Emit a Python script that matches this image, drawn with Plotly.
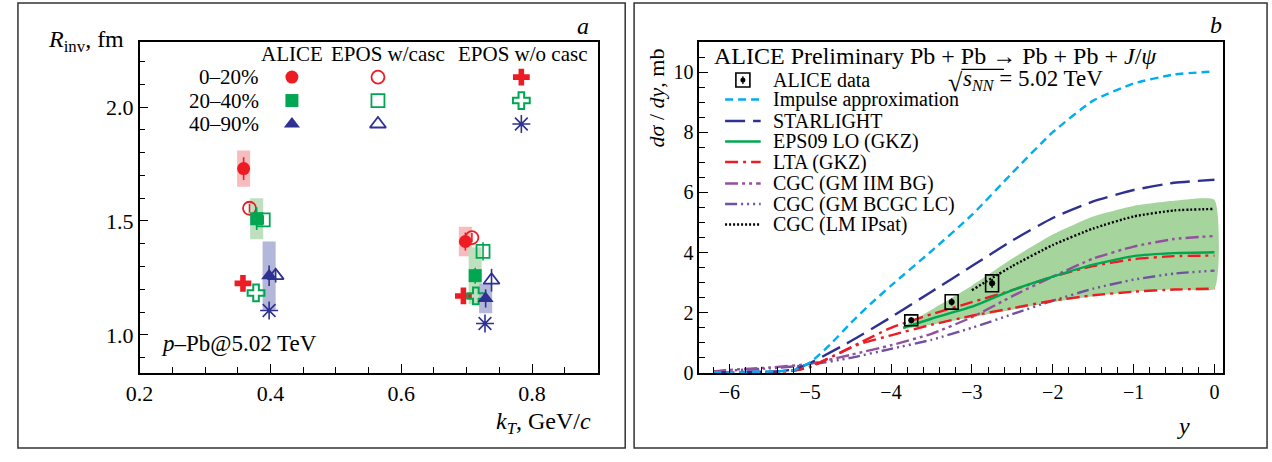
import plotly.graph_objects as go

W, H = 1272, 462
SERIF = "Liberation Serif"

# ---------------- panel a: femtoscopic radii vs kT ----------------
RED, GREEN, NAVY = "#ed1c24", "#00a651", "#2e3192"
RED_L, GREEN_L, NAVY_L = "#f7bcbe", "#bfe0bf", "#b3b7da"

centralities = ["0–20%", "20–40%", "40–90%"]

# ALICE measurements (two kT bins per centrality class)
alice_kt_020 = [0.359, 0.698]
alice_r_020 = [1.73, 1.41]
alice_stat_020 = [0.05, 0.04]
alice_sys_020 = [0.08, 0.065]

alice_kt_2040 = [0.379, 0.713]
alice_r_2040 = [1.51, 1.26]
alice_stat_2040 = [0.05, 0.035]
alice_sys_2040 = [0.09, 0.125]

alice_kt_4090 = [0.398, 0.729]
alice_r_4090 = [1.26, 1.16]
alice_stat_4090 = [0.045, 0.04]
alice_sys_4090 = [0.15, 0.065]

# EPOS with hadronic cascade
epos_c_kt_020 = [0.368, 0.708]
epos_c_r_020 = [1.556, 1.427]
epos_c_err_020 = [0.02, 0.02]

epos_c_kt_2040 = [0.389, 0.725]
epos_c_r_2040 = [1.505, 1.367]
epos_c_err_2040 = [0.02, 0.04]

epos_c_kt_4090 = [0.408, 0.738]
epos_c_r_4090 = [1.26, 1.24]
epos_c_err_4090 = [0.03, 0.05]

# EPOS without hadronic cascade
epos_n_kt_020 = [0.358, 0.695]
epos_n_r_020 = [1.226, 1.171]

epos_n_kt_2040 = [0.378, 0.714]
epos_n_r_2040 = [1.184, 1.171]

epos_n_kt_4090 = [0.398, 0.728]
epos_n_r_4090 = [1.107, 1.05]

# ---------------- panel b: coherent J/psi cross section ----------------
CYAN, PURPLE, VIOLET = "#00aeef", "#93509e", "#7152a0"
BAND = "#a5d49d"

ia_y = [-6.2, -5.8, -5.4, -5.2, -5.0, -4.75, -4.5, -4.25, -4.0, -3.5, -3.0, -2.5, -2.0, -1.5, -1.0, -0.5, 0.0]
ia_v = [0.02, 0.03, 0.05, 0.1, 0.35, 0.95, 1.65, 2.3, 2.9, 4.05, 5.25, 6.65, 8.0, 9.05, 9.62, 9.92, 10.02]

sl_y = [-6.2, -5.8, -5.4, -5.2, -5.0, -4.5, -4.0, -3.5, -3.0, -2.5, -2.0, -1.5, -1.0, -0.5, 0.0]
sl_v = [0.02, 0.03, 0.05, 0.12, 0.33, 1.05, 1.85, 2.7, 3.55, 4.4, 5.15, 5.7, 6.08, 6.32, 6.42]

eps_y = [-3.85, -3.5, -3.0, -2.5, -2.0, -1.5, -1.0, -0.5, 0.0]
eps_v = [1.5, 1.8, 2.2, 2.75, 3.2, 3.6, 3.88, 3.98, 4.01]
eps_hi = [1.55, 2.1, 2.9, 3.8, 4.6, 5.2, 5.55, 5.72, 5.75]
eps_lo = [1.45, 1.6, 1.85, 2.1, 2.35, 2.55, 2.7, 2.78, 2.8]

lta_y = [-6.2, -5.8, -5.4, -5.2, -5.0, -4.8, -4.4, -4.0, -3.5, -3.0, -2.5, -2.0, -1.5, -1.0, -0.5, 0.0]
lta_hi = [0.01, 0.02, 0.04, 0.08, 0.2, 0.45, 0.98, 1.5, 1.95, 2.35, 2.75, 3.2, 3.55, 3.78, 3.88, 3.9]
lta_lo = [0.01, 0.02, 0.04, 0.08, 0.2, 0.45, 0.95, 1.25, 1.6, 1.9, 2.15, 2.4, 2.58, 2.7, 2.77, 2.8]

iim_y = [-6.2, -6.0, -5.5, -5.0, -4.5, -4.0, -3.5, -3.0, -2.5, -2.0, -1.5, -1.0, -0.5, 0.0]
iim_v = [0.05, 0.1, 0.18, 0.3, 0.6, 0.92, 1.3, 1.85, 2.55, 3.2, 3.8, 4.2, 4.45, 4.55]

bcgc_y = [-6.2, -6.0, -5.5, -5.0, -4.5, -4.0, -3.5, -3.0, -2.5, -2.0, -1.5, -1.0, -0.5, 0.0]
bcgc_v = [0.04, 0.08, 0.15, 0.27, 0.5, 0.8, 1.1, 1.5, 1.95, 2.4, 2.8, 3.1, 3.3, 3.4]

ips_y = [-3.0, -2.5, -2.0, -1.5, -1.0, -0.5, 0.0]
ips_v = [2.75, 3.55, 4.25, 4.8, 5.2, 5.4, 5.45]

data_y = [-3.75, -3.25, -2.75]
data_v = [1.75, 2.36, 2.98]
data_stat = [0.1, 0.12, 0.15]
data_sys = [0.18, 0.24, 0.28]

legend_names = ["ALICE data", "Impulse approximation", "STARLIGHT", "EPS09 LO (GKZ)", "LTA (GKZ)",
                "CGC (GM IIM BG)", "CGC (GM BCGC LC)", "CGC (LM IPsat)"]

fig = go.Figure()

# systematic boxes for ALICE radii
for kts, rs, ss, col in [(alice_kt_020, alice_r_020, alice_sys_020, RED_L),
                         (alice_kt_2040, alice_r_2040, alice_sys_2040, GREEN_L),
                         (alice_kt_4090, alice_r_4090, alice_sys_4090, NAVY_L)]:
    for k, r, s in zip(kts, rs, ss):
        fig.add_shape(type="rect", xref="x", yref="y", x0=k - 0.01, x1=k + 0.01,
                      y0=r - s, y1=r + s, fillcolor=col, line_width=0, layer="below")


def pts(x, y, sym, col, size, err=None, lw=1.8, xa="x", ya="y"):
    kw = {}
    if err is not None:
        kw["error_y"] = dict(type="data", array=err, visible=True, color=col, thickness=1.6, width=0)
    fig.add_trace(go.Scatter(x=x, y=y, mode="markers", xaxis=xa, yaxis=ya, showlegend=False,
                             marker=dict(symbol=sym, color=col, size=size, line=dict(color=col, width=lw)),
                             **kw))


pts(epos_n_kt_020, epos_n_r_020, "cross", RED, 14, lw=0)
pts(epos_n_kt_2040, epos_n_r_2040, "cross-open", GREEN, 14, lw=2)
pts(epos_n_kt_4090, epos_n_r_4090, "asterisk-open", NAVY, 15, lw=1.6)
pts(epos_c_kt_020, epos_c_r_020, "circle-open", RED, 13, epos_c_err_020)
pts(epos_c_kt_2040, epos_c_r_2040, "square-open", GREEN, 13, epos_c_err_2040)
pts(epos_c_kt_4090, epos_c_r_4090, "triangle-up-open", NAVY, 14, epos_c_err_4090)
pts(alice_kt_020, alice_r_020, "circle", RED, 13, alice_stat_020, lw=0)
pts(alice_kt_2040, alice_r_2040, "square", GREEN, 13, alice_stat_2040, lw=0)
pts(alice_kt_4090, alice_r_4090, "triangle-up", NAVY, 14, alice_stat_4090, lw=0)

# ---------------- panel b traces ----------------
fig.add_trace(go.Scatter(x=eps_y + eps_y[::-1], y=eps_hi + eps_lo[::-1], fill="toself",
                         fillcolor=BAND, line_width=0, mode="lines", xaxis="x2", yaxis="y2",
                         line_shape="spline", line_smoothing=0.5,
                         showlegend=False, hoverinfo="skip"))


def curve(x, y, col, dash, w=2.4):
    fig.add_trace(go.Scatter(x=x, y=y, mode="lines", xaxis="x2", yaxis="y2", showlegend=False,
                             line=dict(color=col, dash=dash, width=w, shape="spline", smoothing=0.5)))


DASH = {
    "ia": "8px,5px",
    "sl": "20px,8px",
    "eps": "solid",
    "lta": "13px,5px,3px,5px",
    "iim": "13px,4px,3px,4px,3px,4px",
    "bcgc": "12px,4px,2px,4px,2px,4px,2px,4px",
    "ips": "2px,2px",
}

curve(bcgc_y, bcgc_v, VIOLET, DASH["bcgc"])
curve(iim_y, iim_v, PURPLE, DASH["iim"])
curve(lta_y, lta_lo, RED, DASH["lta"])
curve(lta_y, lta_hi, RED, DASH["lta"])
curve(eps_y, eps_v, GREEN, DASH["eps"])
curve(ips_y, ips_v, "black", DASH["ips"])
curve(sl_y, sl_v, NAVY, DASH["sl"])
curve(ia_y, ia_v, CYAN, DASH["ia"])

for yy, v, s in zip(data_y, data_v, data_sys):
    fig.add_shape(type="rect", xref="x2", yref="y2", x0=yy - 0.08, x1=yy + 0.08,
                  y0=v - s, y1=v + s, line=dict(color="black", width=1.6), fillcolor="rgba(0,0,0,0)")
fig.add_trace(go.Scatter(x=data_y, y=data_v, mode="markers", xaxis="x2", yaxis="y2", showlegend=False,
                         marker=dict(symbol="circle", size=6, color="black"),
                         error_y=dict(type="data", array=data_stat, color="black", thickness=1.5, width=0)))

# ---------------- legend keys, drawn on a pixel-space helper axis ----------------
def key_marker(x, y, sym, col, size, lw=1.8):
    fig.add_trace(go.Scatter(x=[x], y=[y], mode="markers", xaxis="x3", yaxis="y3", showlegend=False,
                             marker=dict(symbol=sym, color=col, size=size, line=dict(color=col, width=lw))))


def key_line(y, col, dash, w=2.4):
    fig.add_trace(go.Scatter(x=[719, 755], y=[y, y], mode="lines", xaxis="x3", yaxis="y3",
                             showlegend=False, line=dict(color=col, dash=dash, width=w)))


row_y = [79, 103, 127]
key_cols = [281, 368, 513]
sym_table = [
    [("circle", RED, 13, 0), ("circle-open", RED, 13, 1.8), ("cross", RED, 14, 0)],
    [("square", GREEN, 13, 0), ("square-open", GREEN, 13, 1.8), ("cross-open", GREEN, 14, 2)],
    [("triangle-up", NAVY, 14, 0), ("triangle-up-open", NAVY, 14, 1.8), ("asterisk-open", NAVY, 15, 1.6)],
]
for ry, row in zip(row_y, sym_table):
    for cx, (sym, col, sz, lw) in zip(key_cols, row):
        key_marker(cx, ry, sym, col, sz, lw)

leg_rows = [82, 102, 124, 145, 166, 188, 209, 230]
key_marker(737, leg_rows[0], "square-open", "black", 14, 1.6)
fig.add_trace(go.Scatter(x=[737], y=[leg_rows[0]], mode="markers", xaxis="x3", yaxis="y3", showlegend=False,
                         marker=dict(symbol="circle", size=5, color="black"),
                         error_y=dict(type="data", array=[4], color="black", thickness=1.3, width=0)))
key_line(leg_rows[1], CYAN, DASH["ia"])
key_line(leg_rows[2], NAVY, DASH["sl"])
key_line(leg_rows[3], GREEN, DASH["eps"])
key_line(leg_rows[4], RED, DASH["lta"])
key_line(leg_rows[5], PURPLE, DASH["iim"])
key_line(leg_rows[6], VIOLET, DASH["bcgc"])
key_line(leg_rows[7], "black", DASH["ips"])


def px(x):
    return x / W


def py(y):
    return 1 - y / H


annotations = []


def text(x, y, s, size=20, xanchor="center", **kw):
    annotations.append(dict(x=px(x), y=py(y), xref="paper", yref="paper", text=s, showarrow=False,
                            xanchor=xanchor, yanchor="middle", font=dict(family=SERIF, size=size, color="black"),
                            **kw))


for ny, name in zip(leg_rows, legend_names):
    text(765, ny, name, 20, xanchor="left")

text(281, 55, "ALICE", 21)
text(378, 55, "EPOS w/casc", 21)
text(515, 55, "EPOS w/o casc", 21)
for ry, lab in zip(row_y, centralities):
    text(250, ry, lab, 21, xanchor="right")

text(147, 352, "<i>p</i>–Pb@5.02 TeV", 23, xanchor="left")
text(73, 42, "<i>R</i><sub>inv</sub>, fm", 24)
text(535, 433, "<i>k</i><sub><i>T</i></sub>, GeV/<i>c</i>", 24)
text(575, 27, "<i>a</i>", 24)
text(1215, 26, "<i>b</i>", 24)
text(1183, 436, "<i>y</i>", 24)
text(650, 100, "<i>dσ</i> / <i>dy</i>, mb", 22, textangle=-90)
text(706, 57, "ALICE Preliminary Pb + Pb → Pb + Pb + <i>J</i>/<i>ψ</i>", 24, xanchor="left")
# sqrt(s_NN) label: radical sign, argument and energy, with a vinculum over s_NN
text(942, 84, "√", 26, xanchor="left")
text(958, 82, "<i>s</i><sub><i>NN</i></sub> = 5.02 TeV", 23, xanchor="left")
fig.add_shape(type="line", xref="paper", yref="paper", x0=px(958), x1=px(1001), y0=py(71), y1=py(71),
              line=dict(color="black", width=1.2))

# outer frames around each panel
for x0, x1 in [(4, 618), (627, 1267)]:
    fig.add_shape(type="rect", xref="paper", yref="paper", x0=px(x0), x1=px(x1), y0=py(459), y1=py(3),
                  line=dict(color="#333", width=1.5))

axis_common = dict(showgrid=False, zeroline=False, showline=True, linecolor="black", linewidth=1.5,
                   mirror=True, ticks="inside", ticklen=9, tickwidth=1.3, tickcolor="black",
                   tickfont=dict(family=SERIF, size=22, color="black"))
minor_common = dict(ticks="inside", ticklen=6, tickcolor="black", tickwidth=1.2)

fig.update_layout(
    width=W, height=H, margin=dict(l=0, r=0, t=0, b=0),
    paper_bgcolor="white", plot_bgcolor="rgba(0,0,0,0)",
    showlegend=False, annotations=annotations,
    xaxis=dict(**axis_common, domain=[px(127), px(590)], range=[0.2, 0.9], dtick=0.2, tick0=0.2,
               tickformat=".1f", anchor="y", minor=dict(dtick=0.05, **minor_common)),
    yaxis=dict(**axis_common, domain=[py(382), py(43)], range=[0.833, 2.286], dtick=0.5, tick0=0,
               tickformat=".1f", anchor="x", minor=dict(dtick=0.1, **minor_common)),
    xaxis2=dict(**axis_common, domain=[px(693), px(1222)], range=[-6.37, 0.1], dtick=1, anchor="y2",
                minor=dict(dtick=0.2, **minor_common)),
    yaxis2=dict(**axis_common, domain=[py(382), py(43)], range=[0, 11], dtick=2, anchor="x2",
                minor=dict(dtick=0.5, **minor_common)),
    xaxis3=dict(domain=[0, 1], range=[0, W], visible=False, anchor="y3", fixedrange=True),
    yaxis3=dict(domain=[0, 1], range=[H, 0], visible=False, anchor="x3", fixedrange=True),
)
fig.layout.xaxis2.tickfont.size = 20
fig.layout.yaxis2.tickfont.size = 20

fig.write_html("out.html")
